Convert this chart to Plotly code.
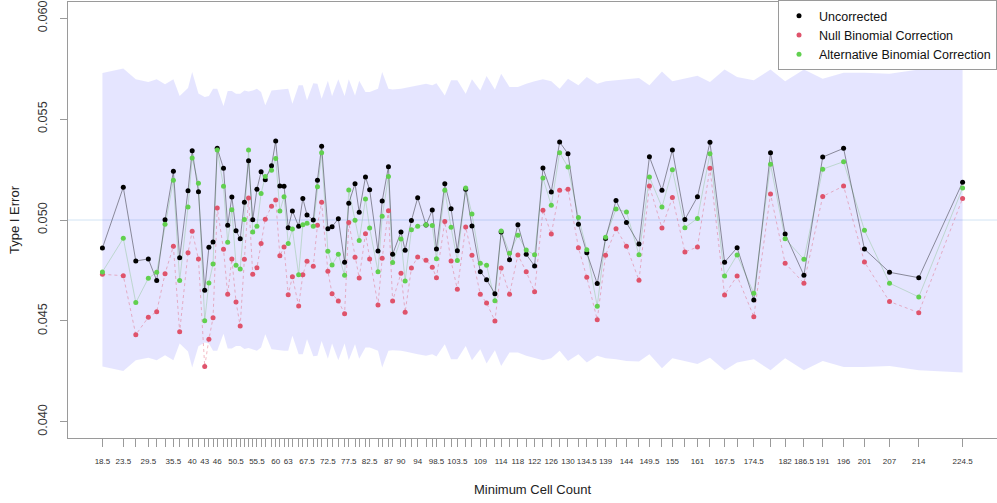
import plotly.graph_objects as go

# Minimum cell count at which each simulation setting was evaluated
min_cell = [18.5, 23.5, 26.5, 29.5, 31.5, 33.5, 35.5, 37, 39, 40,
            41.5, 43, 44, 45, 46, 47.5, 48.5, 49.5, 50.5, 51.5,
            52.5, 53.5, 54.5, 55.5, 56.5, 57.5, 59, 60, 61, 62,
            63, 64, 65.5, 66.5, 67.5, 69, 70, 71, 72.5, 73.5,
            75, 76.5, 77.5, 79, 80, 81.5, 82.5, 84.5, 85.5, 87,
            88, 90, 91, 92.5, 94, 96, 97.5, 98.5, 100.5, 102,
            103.5, 105.5, 107, 109, 110.5, 112.5, 114, 116, 118, 120,
            122, 124, 126, 128, 130, 132.5, 134.5, 137, 139, 141.5,
            144, 147, 149.5, 152.5, 155, 158, 161, 164, 167.5, 170.5,
            174.5, 178.5, 182, 186.5, 191, 196, 201, 207, 214, 224.5]

# Empirical type I error rates
uncorrected = [0.04861, 0.05162, 0.04797, 0.04807, 0.04700, 0.05001, 0.05241, 0.04813, 0.05145, 0.05343,
               0.05140, 0.04652, 0.04865, 0.04891, 0.05355, 0.05256, 0.04974, 0.05114, 0.04947, 0.04907,
               0.05088, 0.05294, 0.05001, 0.05152, 0.05239, 0.05200, 0.05269, 0.05391, 0.05168, 0.05167,
               0.04962, 0.05045, 0.04969, 0.05107, 0.05025, 0.05000, 0.05197, 0.05365, 0.04957, 0.04967,
               0.05006, 0.04791, 0.05083, 0.05180, 0.05038, 0.05213, 0.05150, 0.04847, 0.05094, 0.05264,
               0.04830, 0.04941, 0.04850, 0.04997, 0.05110, 0.04975, 0.05049, 0.04856, 0.05180, 0.05056,
               0.04848, 0.05152, 0.04970, 0.04744, 0.04704, 0.04635, 0.04941, 0.04803, 0.04977, 0.04830,
               0.04772, 0.05257, 0.05139, 0.05386, 0.05328, 0.04979, 0.04838, 0.04685, 0.04908, 0.05096,
               0.04987, 0.04881, 0.05313, 0.05147, 0.05347, 0.05003, 0.05115, 0.05385, 0.04791, 0.04863,
               0.04604, 0.05333, 0.04931, 0.04726, 0.05312, 0.05355, 0.04856, 0.04741, 0.04714, 0.05187]

null_binomial = [0.04731, 0.04724, 0.04432, 0.04518, 0.04546, 0.04734, 0.04870, 0.04446, 0.04838, 0.04944,
                 0.04807, 0.04274, 0.04409, 0.04516, 0.05059, 0.04855, 0.04632, 0.04807, 0.04594, 0.04475,
                 0.04805, 0.05109, 0.04731, 0.04764, 0.04883, 0.05004, 0.05068, 0.05099, 0.04823, 0.04866,
                 0.04630, 0.04719, 0.04574, 0.04729, 0.04796, 0.04771, 0.04974, 0.05088, 0.04746, 0.04635,
                 0.04599, 0.04536, 0.04987, 0.04815, 0.04713, 0.04932, 0.04807, 0.04579, 0.04810, 0.05046,
                 0.04599, 0.04736, 0.04543, 0.04762, 0.04817, 0.04801, 0.04766, 0.04714, 0.04992, 0.04797,
                 0.04657, 0.04965, 0.04825, 0.04632, 0.04589, 0.04500, 0.04762, 0.04632, 0.04827, 0.04744,
                 0.04645, 0.05048, 0.04931, 0.05147, 0.05152, 0.04863, 0.04716, 0.04506, 0.04825, 0.04957,
                 0.04870, 0.04701, 0.05168, 0.04960, 0.05112, 0.04842, 0.04866, 0.05256, 0.04629, 0.04723,
                 0.04521, 0.05129, 0.04786, 0.04687, 0.05117, 0.05168, 0.04792, 0.04596, 0.04541, 0.05107]

alt_binomial = [0.04743, 0.04909, 0.04591, 0.04711, 0.04741, 0.04979, 0.05197, 0.04700, 0.05064, 0.05307,
                0.05182, 0.04501, 0.04688, 0.04782, 0.05347, 0.05167, 0.04890, 0.05051, 0.04776, 0.04757,
                0.05003, 0.05347, 0.04941, 0.04969, 0.05131, 0.05216, 0.05246, 0.05305, 0.05045, 0.05115,
                0.04883, 0.04955, 0.04729, 0.04977, 0.04984, 0.04969, 0.05165, 0.05333, 0.04845, 0.04777,
                0.04830, 0.04726, 0.05149, 0.04999, 0.04898, 0.05104, 0.04960, 0.04744, 0.05018, 0.05216,
                0.04789, 0.04906, 0.04698, 0.04952, 0.04969, 0.04977, 0.04973, 0.04808, 0.05147, 0.04964,
                0.04799, 0.05158, 0.05030, 0.04786, 0.04776, 0.04600, 0.04946, 0.04835, 0.04924, 0.04851,
                0.04828, 0.05208, 0.05073, 0.05333, 0.05262, 0.05013, 0.04853, 0.04573, 0.04914, 0.05054,
                0.05040, 0.04828, 0.05213, 0.05064, 0.05249, 0.04962, 0.05008, 0.05328, 0.04723, 0.04827,
                0.04637, 0.05276, 0.04907, 0.04805, 0.05252, 0.05289, 0.04949, 0.04687, 0.04619, 0.05158]

# Monte Carlo acceptance band around the nominal level
band_upper = [0.05728, 0.05750, 0.05697, 0.05684, 0.05697, 0.05672, 0.05697, 0.05614, 0.05654, 0.05733,
              0.05627, 0.05609, 0.05614, 0.05650, 0.05650, 0.05565, 0.05639, 0.05639, 0.05626, 0.05626,
              0.05641, 0.05636, 0.05641, 0.05650, 0.05634, 0.05568, 0.05642, 0.05644, 0.05647, 0.05650,
              0.05650, 0.05576, 0.05667, 0.05667, 0.05593, 0.05677, 0.05675, 0.05601, 0.05690, 0.05614,
              0.05697, 0.05614, 0.05697, 0.05617, 0.05690, 0.05634, 0.05634, 0.05650, 0.05733, 0.05650,
              0.05647, 0.05650, 0.05654, 0.05659, 0.05667, 0.05675, 0.05667, 0.05678, 0.05617, 0.05692,
              0.05692, 0.05626, 0.05697, 0.05642, 0.05713, 0.05647, 0.05725, 0.05659, 0.05659, 0.05675,
              0.05687, 0.05697, 0.05687, 0.05650, 0.05700, 0.05667, 0.05708, 0.05675, 0.05687, 0.05692,
              0.05700, 0.05703, 0.05667, 0.05736, 0.05687, 0.05700, 0.05715, 0.05684, 0.05746, 0.05708,
              0.05692, 0.05746, 0.05687, 0.05746, 0.05700, 0.05730, 0.05730, 0.05725, 0.05746, 0.05758]

band_lower = [0.04274, 0.04252, 0.04305, 0.04318, 0.04305, 0.04330, 0.04305, 0.04388, 0.04348, 0.04269,
              0.04375, 0.04393, 0.04388, 0.04352, 0.04352, 0.04437, 0.04363, 0.04363, 0.04376, 0.04376,
              0.04361, 0.04366, 0.04361, 0.04352, 0.04368, 0.04434, 0.04360, 0.04358, 0.04355, 0.04352,
              0.04352, 0.04426, 0.04335, 0.04335, 0.04409, 0.04325, 0.04327, 0.04401, 0.04312, 0.04388,
              0.04305, 0.04388, 0.04305, 0.04385, 0.04312, 0.04368, 0.04368, 0.04352, 0.04269, 0.04352,
              0.04355, 0.04352, 0.04348, 0.04343, 0.04335, 0.04327, 0.04335, 0.04324, 0.04385, 0.04310,
              0.04310, 0.04376, 0.04305, 0.04360, 0.04289, 0.04355, 0.04277, 0.04343, 0.04343, 0.04327,
              0.04315, 0.04305, 0.04315, 0.04352, 0.04302, 0.04335, 0.04294, 0.04327, 0.04315, 0.04310,
              0.04302, 0.04299, 0.04335, 0.04266, 0.04315, 0.04302, 0.04287, 0.04318, 0.04256, 0.04294,
              0.04310, 0.04256, 0.04315, 0.04256, 0.04302, 0.04272, 0.04272, 0.04277, 0.04256, 0.04244]

# Tick values that carry a printed label
labelled_ticks = [18.5, 23.5, 29.5, 35.5, 40, 43, 46, 50.5, 55.5, 60, 63, 67.5, 72.5, 77.5, 82.5,
                  87, 90, 94, 98.5, 103.5, 109, 114, 118, 122, 126, 130, 134.5, 139, 144, 149.5,
                  155, 161, 167.5, 174.5, 182, 186.5, 191, 196, 201, 207, 214, 224.5]

y_ticks = [0.040, 0.045, 0.050, 0.055, 0.060]
nominal_alpha = 0.05

FONT = "Liberation Sans, Arial, sans-serif"
BLACK = "#000000"
RED = "#DF536B"
GREEN = "#61D04F"

fig = go.Figure()

# shaded acceptance region
fig.add_trace(go.Scatter(
    x=min_cell + min_cell[::-1],
    y=band_upper + band_lower[::-1],
    fill="toself", fillcolor="rgba(0,0,255,0.1)",
    line=dict(width=0), mode="lines",
    hoverinfo="skip", showlegend=False,
))

# connecting lines
fig.add_trace(go.Scatter(x=min_cell, y=alt_binomial, mode="lines",
                         line=dict(color="rgba(150,200,160,0.5)", width=1),
                         showlegend=False, hoverinfo="skip"))
fig.add_trace(go.Scatter(x=min_cell, y=null_binomial, mode="lines",
                         line=dict(color="rgba(223,83,107,0.4)", width=1, dash="dot"),
                         showlegend=False, hoverinfo="skip"))
fig.add_trace(go.Scatter(x=min_cell, y=uncorrected, mode="lines",
                         line=dict(color="rgba(60,60,70,0.55)", width=1),
                         showlegend=False, hoverinfo="skip"))

# points
fig.add_trace(go.Scatter(x=min_cell, y=uncorrected, mode="markers", name="Uncorrected",
                         marker=dict(color=BLACK, size=5)))
fig.add_trace(go.Scatter(x=min_cell, y=null_binomial, mode="markers", name="Null Binomial Correction",
                         marker=dict(color=RED, size=5)))
fig.add_trace(go.Scatter(x=min_cell, y=alt_binomial, mode="markers", name="Alternative Binomial Correction",
                         marker=dict(color=GREEN, size=5)))

# nominal level reference line
fig.add_shape(type="line", xref="paper", x0=0, x1=1, yref="y",
              y0=nominal_alpha, y1=nominal_alpha,
              line=dict(color="#d2e4f4", width=1), layer="below")

tick_text = [(f"{v:g}" if v in labelled_ticks else "") for v in min_cell]

fig.update_layout(
    width=997, height=503,
    margin=dict(l=68, r=0, t=2, b=65),
    paper_bgcolor="white", plot_bgcolor="white",
    font=dict(family=FONT, color="#222"),
    showlegend=True,
    legend=dict(x=1, xanchor="right", y=1.005, yanchor="top",
                bgcolor="white", bordercolor="#9a9a9a", borderwidth=1,
                font=dict(size=12.5, color="#111"), itemwidth=30,
                tracegroupgap=0),
    xaxis=dict(
        range=[10.26, 232.74],
        tickmode="array", tickvals=min_cell, ticktext=tick_text,
        ticks="outside", ticklen=8, tickcolor="#9a9a9a", tickwidth=1,
        tickangle=0,
        tickfont=dict(size=8, color="#333"), ticklabelstandoff=7,
        showline=True, linecolor="#9a9a9a", linewidth=1, mirror=True,
        showgrid=False, zeroline=False,
        title=dict(text="Minimum Cell Count", font=dict(size=13, color="#222"), standoff=20),
    ),
    yaxis=dict(
        range=[0.0392, 0.0608],
        tickmode="array", tickvals=y_ticks, ticktext=[f"{v:.3f}" for v in y_ticks],
        ticks="outside", ticklen=7, tickcolor="#9a9a9a", tickwidth=1,
        tickangle=-90, tickfont=dict(size=12.7, color="#333"), ticklabelstandoff=8,
        showline=True, linecolor="#9a9a9a", linewidth=1, mirror=True,
        showgrid=False, zeroline=False,
        title=dict(text="Type I Error", font=dict(size=13, color="#222"), standoff=13),
    ),
)

fig.write_html("out.html")
